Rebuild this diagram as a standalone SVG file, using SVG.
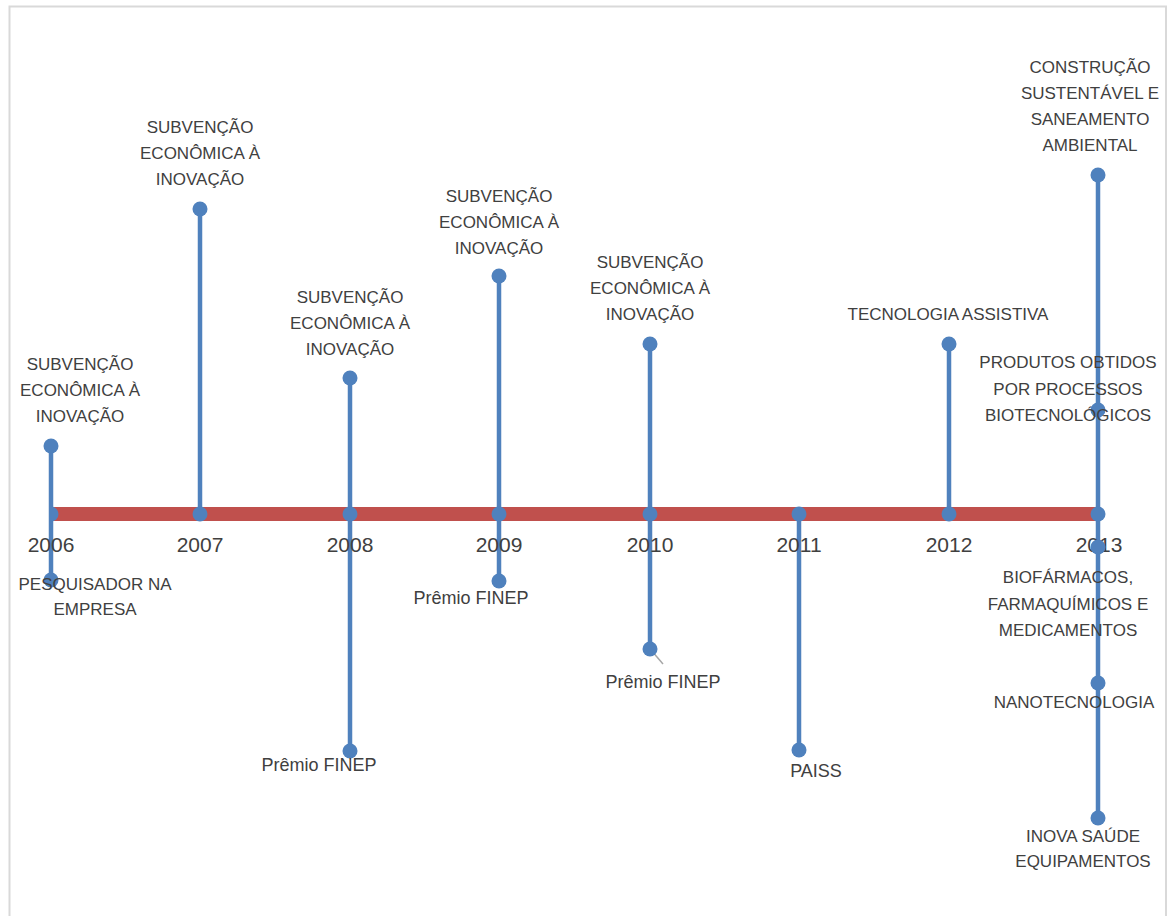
<svg xmlns="http://www.w3.org/2000/svg" width="1167" height="916" viewBox="0 0 1167 916">
  <style>
    .frame { fill: none; stroke: #d9d9d9; stroke-width: 2; }
    .axis { stroke: #c0504d; stroke-width: 14; stroke-linecap: butt; }
    .stem { stroke: #4f81bd; stroke-width: 4.5; stroke-linecap: butt; }
    .leader { stroke: #a6a6a6; stroke-width: 1.5; }
    .dot { fill: #4f81bd; }
    text { font-family: "Liberation Sans", Arial, sans-serif; fill: #404040; text-anchor: middle; }
    .lbl { font-size: 17px; }
    .mix { font-size: 18px; }
    .year { font-size: 21px; }
  </style>

  <rect width="1167" height="916" fill="#ffffff"/>
  <!-- chart frame (open at the bottom) -->
  <path class="frame" d="M9.5,916 V6.5 H1166 V916"/>

  <!-- axis bar and stems -->
  <g id="connectors">
    <line class="axis" x1="51" y1="514" x2="1098" y2="514"/>
    <line class="stem" x1="51" y1="446" x2="51" y2="580"/>
    <line class="stem" x1="200" y1="209" x2="200" y2="514"/>
    <line class="stem" x1="350" y1="378" x2="350" y2="751"/>
    <line class="stem" x1="499" y1="276" x2="499" y2="581"/>
    <line class="stem" x1="650" y1="344" x2="650" y2="649"/>
    <line class="stem" x1="799" y1="514" x2="799" y2="750"/>
    <line class="stem" x1="949" y1="344" x2="949" y2="514"/>
    <line class="stem" x1="1098" y1="175" x2="1098" y2="818"/>
    <line class="leader" x1="651" y1="650" x2="663" y2="664"/>
  </g>

  <!-- year markers on the axis -->
  <g id="year-2006">
    <path class="dot" d="M51,506.5 A7.5,7.5 0 0 1 51,521.5 Z"/>
    <text class="year" x="51" y="552">2006</text>
  </g>
  <g id="year-2007">
    <circle class="dot" cx="200" cy="514" r="7.5"/>
    <text class="year" x="200" y="552">2007</text>
  </g>
  <g id="year-2008">
    <circle class="dot" cx="350" cy="514" r="7.5"/>
    <text class="year" x="350" y="552">2008</text>
  </g>
  <g id="year-2009">
    <circle class="dot" cx="499" cy="514" r="7.5"/>
    <text class="year" x="499" y="552">2009</text>
  </g>
  <g id="year-2010">
    <circle class="dot" cx="650" cy="514" r="7.5"/>
    <text class="year" x="650" y="552">2010</text>
  </g>
  <g id="year-2011">
    <circle class="dot" cx="799" cy="514" r="7.5"/>
    <text class="year" x="799" y="552">2011</text>
  </g>
  <g id="year-2012">
    <circle class="dot" cx="949" cy="514" r="7.5"/>
    <text class="year" x="949" y="552">2012</text>
  </g>
  <g id="year-2013">
    <circle class="dot" cx="1098" cy="514" r="7.5"/>
    <text class="year" x="1099" y="552">2013</text>
  </g>

  <!-- 2006 -->
  <g id="ev-2006-subvencao">
    <circle class="dot" cx="51" cy="446" r="7.5"/>
    <text class="lbl" x="80"><tspan x="80" y="370">SUBVENÇÃO</tspan><tspan x="80" y="396">ECONÔMICA À</tspan><tspan x="80" y="422">INOVAÇÃO</tspan></text>
  </g>
  <g id="ev-2006-pesquisador">
    <circle class="dot" cx="51" cy="580" r="7.5"/>
    <text class="lbl" x="95"><tspan x="95" y="590">PESQUISADOR NA</tspan><tspan x="95" y="615">EMPRESA</tspan></text>
  </g>

  <!-- 2007 -->
  <g id="ev-2007-subvencao">
    <circle class="dot" cx="200" cy="209" r="7.5"/>
    <text class="lbl" x="200"><tspan x="200" y="133">SUBVENÇÃO</tspan><tspan x="200" y="159">ECONÔMICA À</tspan><tspan x="200" y="185">INOVAÇÃO</tspan></text>
  </g>

  <!-- 2008 -->
  <g id="ev-2008-subvencao">
    <circle class="dot" cx="350" cy="378" r="7.5"/>
    <text class="lbl" x="350"><tspan x="350" y="303">SUBVENÇÃO</tspan><tspan x="350" y="329">ECONÔMICA À</tspan><tspan x="350" y="355">INOVAÇÃO</tspan></text>
  </g>
  <g id="ev-2008-premio">
    <circle class="dot" cx="350" cy="751" r="7.5"/>
    <text class="mix" x="319" y="771">Prêmio FINEP</text>
  </g>

  <!-- 2009 -->
  <g id="ev-2009-subvencao">
    <circle class="dot" cx="499" cy="276" r="7.5"/>
    <text class="lbl" x="499"><tspan x="499" y="202">SUBVENÇÃO</tspan><tspan x="499" y="228">ECONÔMICA À</tspan><tspan x="499" y="254">INOVAÇÃO</tspan></text>
  </g>
  <g id="ev-2009-premio">
    <circle class="dot" cx="499" cy="581" r="7.5"/>
    <text class="mix" x="471" y="604">Prêmio FINEP</text>
  </g>

  <!-- 2010 -->
  <g id="ev-2010-subvencao">
    <circle class="dot" cx="650" cy="344" r="7.5"/>
    <text class="lbl" x="650"><tspan x="650" y="268">SUBVENÇÃO</tspan><tspan x="650" y="294">ECONÔMICA À</tspan><tspan x="650" y="320">INOVAÇÃO</tspan></text>
  </g>
  <g id="ev-2010-premio">
    <circle class="dot" cx="650" cy="649" r="7.5"/>
    <text class="mix" x="663" y="688">Prêmio FINEP</text>
  </g>

  <!-- 2011 -->
  <g id="ev-2011-paiss">
    <circle class="dot" cx="799" cy="750" r="7.5"/>
    <text class="mix" x="816" y="777">PAISS</text>
  </g>

  <!-- 2012 -->
  <g id="ev-2012-tecnologia">
    <circle class="dot" cx="949" cy="344" r="7.5"/>
    <text class="lbl" x="948" y="320">TECNOLOGIA ASSISTIVA</text>
  </g>

  <!-- 2013 -->
  <g id="ev-2013-construcao">
    <circle class="dot" cx="1098" cy="175" r="7.5"/>
    <text class="lbl" x="1090"><tspan x="1090" y="73">CONSTRUÇÃO</tspan><tspan x="1090" y="99">SUSTENTÁVEL E</tspan><tspan x="1090" y="125">SANEAMENTO</tspan><tspan x="1090" y="151">AMBIENTAL</tspan></text>
  </g>
  <g id="ev-2013-biotecnologicos">
    <circle class="dot" cx="1098" cy="410" r="7.5"/>
    <text class="lbl" x="1068"><tspan x="1068" y="368">PRODUTOS OBTIDOS</tspan><tspan x="1068" y="395">POR PROCESSOS</tspan><tspan x="1068" y="421">BIOTECNOLÓGICOS</tspan></text>
  </g>
  <g id="ev-2013-biofarmacos">
    <circle class="dot" cx="1098" cy="547" r="7.5"/>
    <text class="lbl" x="1068"><tspan x="1068" y="583">BIOFÁRMACOS,</tspan><tspan x="1068" y="610">FARMAQUÍMICOS E</tspan><tspan x="1068" y="636">MEDICAMENTOS</tspan></text>
  </g>
  <g id="ev-2013-nanotecnologia">
    <circle class="dot" cx="1098" cy="683" r="7.5"/>
    <text class="lbl" x="1074" y="708">NANOTECNOLOGIA</text>
  </g>
  <g id="ev-2013-inova-saude">
    <circle class="dot" cx="1098" cy="818" r="7.5"/>
    <text class="lbl" x="1083"><tspan x="1083" y="842">INOVA SAÚDE</tspan><tspan x="1083" y="867">EQUIPAMENTOS</tspan></text>
  </g>
</svg>
